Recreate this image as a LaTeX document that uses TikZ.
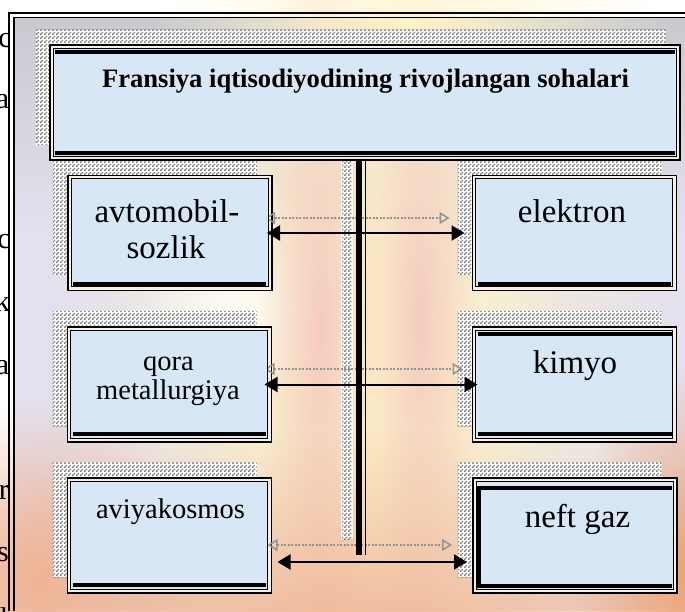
\documentclass[tikz,border=0pt]{standalone}
\usepackage{fontspec}
\setmainfont{Liberation Serif}
\usetikzlibrary{arrows.meta,patterns,fadings}
\pgfdeclarepatternformonly{checker}{\pgfpointorigin}{\pgfpoint{4pt}{4pt}}{\pgfpoint{4pt}{4pt}}{%
  \pgfpathrectangle{\pgfpointorigin}{\pgfpoint{2pt}{2pt}}%
  \pgfpathrectangle{\pgfpoint{2pt}{2pt}}{\pgfpoint{2pt}{2pt}}%
  \pgfusepath{fill}}
\tikzfading[name=softedge, inner color=transparent!0, outer color=transparent!100]
\definecolor{lav}{HTML}{E4E0EE}
\definecolor{topgray}{HTML}{C9C9D0}
\definecolor{boxblue}{HTML}{D8E7F6}
\definecolor{cream}{HTML}{FFF5C8}
\definecolor{warm}{HTML}{F0B494}
\definecolor{orangey}{HTML}{EFA272}
\definecolor{pinkish}{HTML}{F5CCC0}
\definecolor{gapcol}{HTML}{F6F0E4}
\definecolor{checkgray}{HTML}{808080}
\tikzset{
  boxshape/.style={draw=black, line width=1.2pt, fill=gapcol, minimum width=204pt,
    minimum height=115pt, inner sep=0pt, outer sep=0pt},
  titleshape/.style={boxshape, minimum width=630pt},
  shadowbox/.style={fill=white, postaction={pattern=checker, pattern color=checkgray},
    minimum width=204pt, minimum height=115pt, inner sep=0pt, outer sep=0pt},
  titleshadow/.style={shadowbox, minimum width=630pt},
  innerline/.style={draw=black, line width=0.9pt, fill=boxblue},
  thickline/.style={line width=4.8pt},
  bigtxt/.style={font=\fontsize{33}{36}\selectfont, inner sep=0pt, anchor=base},
  smalltxt/.style={font=\fontsize{28.5}{31}\selectfont, inner sep=0pt, anchor=base},
  titletxt/.style={font=\bfseries\fontsize{26.6}{30}\selectfont, inner sep=0pt, anchor=base},
  edgetxt/.style={font=\fontsize{30}{32}\selectfont, inner sep=0pt, anchor=base east},
  blackarrow/.style={line width=2pt,
    {Triangle[length=13pt,width=15pt]}-{Triangle[length=13pt,width=15pt]}},
  grayarrow/.style={draw=gray!85, line width=1.8pt, dash pattern=on 2pt off 1.5pt,
    {Triangle[open,length=10pt,width=12pt,line width=1.5pt]}-{Triangle[open,length=10pt,width=12pt,line width=1.5pt]}},
}
\begin{document}
\begin{tikzpicture}[x=1pt,y=-1pt]
\useasboundingbox (0,0) rectangle (685,611);
% background
\fill[white] (0,0) rectangle (685,611);
\fill[lav] (14,17) rectangle (685,611);
\shade[top color=topgray, bottom color=lav] (14,17) rectangle (685,230);
\fill[cream, path fading=softedge] (370,400) ellipse [x radius=320pt, y radius=440pt];
\fill[cream, path fading=softedge] (370,330) ellipse [x radius=200pt, y radius=360pt];
\fill[white, path fading=softedge, opacity=0.8] (230,310) ellipse [x radius=110pt, y radius=90pt];
\fill[pinkish, path fading=softedge] (320,330) ellipse [x radius=60pt, y radius=420pt];
\fill[pinkish, path fading=softedge] (420,320) ellipse [x radius=60pt, y radius=360pt];
\fill[warm, path fading=softedge] (340,650) ellipse [x radius=600pt, y radius=220pt];
\fill[orangey, path fading=softedge] (690,570) ellipse [x radius=120pt, y radius=200pt];
\fill[warm, path fading=softedge] (40,580) ellipse [x radius=180pt, y radius=180pt];
\fill[cream, path fading=softedge] (410,25) ellipse [x radius=260pt, y radius=50pt];
% frame
\draw[line width=2pt] (9,611) -- (9,13) -- (685,13);
\draw[line width=1.4pt] (14,611) -- (14,17.5) -- (685,17.5);
% edge text fragments (cut by the frame, as in the reference)
\begin{scope}
\clip (0,0) rectangle (8,611);
\node[edgetxt] (e1) at (12,47) {ac};
\node[edgetxt] (e2) at (9.5,108) {a};
\node[edgetxt] (e3) at (11,248) {c};
\node[edgetxt] (e4) at (10,311) {k};
\node[edgetxt] (e5) at (9.5,374) {a};
\node[edgetxt] (e6) at (9,499) {r};
\node[edgetxt] (e7) at (9,561) {s};
\node[edgetxt] (e8) at (8.5,628) {l};
\end{scope}
% shadows
\node[titleshadow] (s0) at (351,87) {};
\node[shadowbox] (s1) at (155,217) {};
\node[shadowbox] (s2) at (559.5,217) {};
\node[shadowbox] (s3) at (154.5,368.5) {};
\node[shadowbox] (s4) at (559.5,368.5) {};
\node[shadowbox] (s5) at (154.5,519.5) {};
\node[shadowbox] (s6) at (559.5,519.5) {};
\fill[white] (341,150) rectangle (353,539);
\fill[pattern=checker, pattern color=checkgray] (342,150) rectangle (352,539);
% boxes
\node[titleshape] (title) at (365,102.5) {};
\node[boxshape] (b1) at (170,233) {};
\node[boxshape] (b2) at (574.5,233) {};
\node[boxshape] (b3) at (169.5,384.5) {};
\node[boxshape] (b4) at (574.5,384.5) {};
\node[boxshape] (b5) at (169.5,535.5) {};
\node[boxshape] (b6) at (575,535.5) {};
% gray shadow arrows
\draw[grayarrow] ([shift={(-7,-15)}]b1.east) -- ([shift={(-23,-15)}]b2.west);
\draw[grayarrow] ([shift={(-7,-15.5)}]b3.east) -- ([shift={(-10,-15.5)}]b4.west);
\draw[grayarrow] ([shift={(-4,9.5)}]b5.east) -- ([shift={(-21,9.5)}]b6.west);
% inner panels
\foreach \b in {title,b1,b2,b3,b4,b5,b6}{
  \draw[innerline] ([shift={(3,3)}]\b.north west) rectangle ([shift={(-4,-4)}]\b.south east);
}
% thick lines
\draw[thickline] ([shift={(5,7)}]title.north west) -- ([shift={(-5,7)}]title.north east);
\draw[thickline] ([shift={(5,-7)}]title.south west) -- ([shift={(-5,-7)}]title.south east);
\draw[thickline] ([shift={(5,-6.5)}]b1.south west) -- ([shift={(-6,-6.5)}]b1.south east);
\draw[thickline] ([shift={(5,-6.5)}]b2.south west) -- ([shift={(-6,-6.5)}]b2.south east);
\draw[thickline] ([shift={(5,-8)}]b3.south west) -- ([shift={(-6,-8)}]b3.south east);
\draw[thickline] ([shift={(5,7)}]b4.north west) -- ([shift={(-5,7)}]b4.north east);
\draw[thickline] ([shift={(5,-8)}]b4.south west) -- ([shift={(-5,-8)}]b4.south east);
\draw[thickline] ([shift={(5,-8)}]b5.south west) -- ([shift={(-6,-8)}]b5.south east);
\draw[thickline] ([shift={(5,10)}]b6.north west) -- ([shift={(-5,10)}]b6.north east);
\draw[thickline] ([shift={(6,8)}]b6.north west) -- ([shift={(6,-6)}]b6.south west);
\draw[thickline] ([shift={(4,-7)}]b6.south west) -- ([shift={(-5,-7)}]b6.south east);
% texts
\node[titletxt] (t0) at (365.5,87) {Fransiya iqtisodiyodining rivojlangan sohalari};
\node[bigtxt] (t1a) at (167,222) {avtomobil-};
\node[bigtxt] (t1b) at (166,258) {sozlik};
\node[bigtxt] (t2) at (572,222) {elektron};
\node[smalltxt] (t3a) at (168.5,370) {qora};
\node[smalltxt] (t3b) at (168,399) {metallurgiya};
\node[bigtxt] (t4) at (575,373) {kimyo};
\node[smalltxt] (t5) at (170.5,518) {aviyakosmos};
\node[bigtxt] (t6) at (577.5,527) {neft gaz};
% vertical connector
\coordinate (vend) at (359,555);
\coordinate (vend2) at (365.5,555);
\draw[line width=6pt] ([xshift=-6pt]title.south) -- (vend);
\draw[line width=1pt] ([xshift=0.5pt]title.south) -- (vend2);
% black arrows
\draw[blackarrow] ([xshift=-5pt]b1.east) -- ([xshift=-8pt]b2.west);
\draw[blackarrow] ([xshift=-7pt]b3.east) -- ([xshift=5pt]b4.west);
\draw[blackarrow] ([shift={(6,26.5)}]b5.east) -- ([shift={(-6,26.5)}]b6.west);
\end{tikzpicture}
\end{document}
